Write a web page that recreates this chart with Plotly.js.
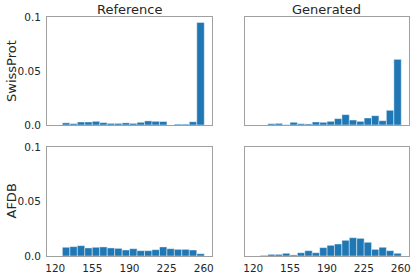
<!DOCTYPE html>
<html>
<head>
<meta charset="utf-8">
<script src="https://cdn.plot.ly/plotly-3.0.1.min.js"></script>
<style>html,body{margin:0;padding:0;background:#fff;}#chart{width:416px;height:276px;}</style>
</head>
<body>
<div id="chart"></div>
<script>
// Bin centers (sequence length) and bin width
const binCenters = [130.2, 137.3, 144.3, 151.3, 158.4, 165.4, 172.5, 179.5, 186.6, 193.6,
                    200.6, 207.7, 214.7, 221.8, 228.8, 235.8, 242.9, 249.9, 257.0];
const binWidth = 7.04;

// Density values per panel
const refSwissProt = [0.0020, 0.0013, 0.0028, 0.0028, 0.0034, 0.0022, 0.0015, 0.0015, 0.0020, 0.0015,
                      0.0025, 0.0038, 0.0034, 0.0032, 0.0000, 0.0008, 0.0008, 0.0030, 0.0950];
const genSwissProt = [0.0000, 0.0012, 0.0015, 0.0003, 0.0025, 0.0012, 0.0010, 0.0028, 0.0025, 0.0034,
                      0.0059, 0.0096, 0.0046, 0.0034, 0.0065, 0.0086, 0.0040, 0.0136, 0.0608];
const refAFDB = [0.0080, 0.0086, 0.0095, 0.0074, 0.0080, 0.0083, 0.0074, 0.0070, 0.0055, 0.0067,
                 0.0049, 0.0049, 0.0058, 0.0083, 0.0067, 0.0061, 0.0061, 0.0055, 0.0021];
const genAFDB = [0.0006, 0.0015, 0.0015, 0.0025, 0.0010, 0.0030, 0.0049, 0.0030, 0.0077, 0.0098,
                 0.0110, 0.0144, 0.0168, 0.0162, 0.0126, 0.0061, 0.0080, 0.0049, 0.0025];

const colTitles = ["Reference", "Generated"];
const rowTitles = ["SwissProt", "AFDB"];
const xTicks = [120, 155, 190, 225, 260];
const yTickVals = [0, 0.05, 0.1];
const yTickText = ["0.0", "0.05", "0.1"];

const barColor = "#1f77b4";
const textColor = "#262626";
const frameColor = "#a0a0a0";
const fontFamily = "DejaVu Sans, sans-serif";

function barTrace(y, xa, ya) {
  return {
    type: "bar", x: binCenters, y: y, width: binCenters.map(() => binWidth),
    xaxis: xa, yaxis: ya,
    marker: {color: barColor, line: {color: "rgba(255,255,255,0.55)", width: 0.8}},
    hoverinfo: "skip", showlegend: false
  };
}

const data = [
  barTrace(refSwissProt, "x", "y"),
  barTrace(genSwissProt, "x2", "y2"),
  barTrace(refAFDB, "x3", "y3"),
  barTrace(genAFDB, "x4", "y4")
];

const xL = [0.113, 0.5096], xR = [0.589, 0.983];
const yT = [1 - 125/276, 1 - 17/276], yB = [1 - 256/276, 1 - 147/276];

function xaxis(dom, anchor, showLabels) {
  return {
    domain: dom, anchor: anchor, range: [112.2, 267.8],
    tickvals: xTicks, ticktext: xTicks.map(String), showticklabels: showLabels,
    ticks: "", showgrid: false, zeroline: false,
    showline: true, linecolor: frameColor, linewidth: 1, mirror: true,
    tickfont: {family: fontFamily, size: 10.5, color: textColor},
    ticklabelstandoff: 2, fixedrange: true
  };
}
function yaxis(dom, anchor, showLabels) {
  return {
    domain: dom, anchor: anchor, range: [0, 0.1],
    tickvals: yTickVals, ticktext: yTickText, showticklabels: showLabels,
    ticks: "", showgrid: false, zeroline: false,
    showline: true, linecolor: frameColor, linewidth: 1, mirror: true,
    tickfont: {family: fontFamily, size: 10.5, color: textColor},
    ticklabelstandoff: 3, fixedrange: true
  };
}

const titleFont = {family: fontFamily, size: 13, color: textColor};

const layout = {
  width: 416, height: 276,
  margin: {l: 0, r: 0, t: 0, b: 0},
  paper_bgcolor: "#fff", plot_bgcolor: "#fff",
  bargap: 0,
  xaxis: xaxis(xL, "y", false),
  yaxis: yaxis(yT, "x", true),
  xaxis2: xaxis(xR, "y2", false),
  yaxis2: yaxis(yT, "x2", false),
  xaxis3: xaxis(xL, "y3", true),
  yaxis3: yaxis(yB, "x3", true),
  xaxis4: xaxis(xR, "y4", true),
  yaxis4: yaxis(yB, "x4", false),
  annotations: [
    {text: colTitles[0], x: (xL[0] + xL[1]) / 2, y: 1 - 9/276, xref: "paper", yref: "paper",
     showarrow: false, xanchor: "center", yanchor: "middle", font: titleFont},
    {text: colTitles[1], x: (xR[0] + xR[1]) / 2, y: 1 - 9/276, xref: "paper", yref: "paper",
     showarrow: false, xanchor: "center", yanchor: "middle", font: titleFont},
    {text: rowTitles[0], x: 11/416, y: (yT[0] + yT[1]) / 2, xref: "paper", yref: "paper",
     showarrow: false, xanchor: "center", yanchor: "middle", textangle: -90, font: titleFont},
    {text: rowTitles[1], x: 11/416, y: (yB[0] + yB[1]) / 2, xref: "paper", yref: "paper",
     showarrow: false, xanchor: "center", yanchor: "middle", textangle: -90, font: titleFont}
  ]
};

Plotly.newPlot("chart", data, layout, {staticPlot: true, displayModeBar: false});
</script>
</body>
</html>
